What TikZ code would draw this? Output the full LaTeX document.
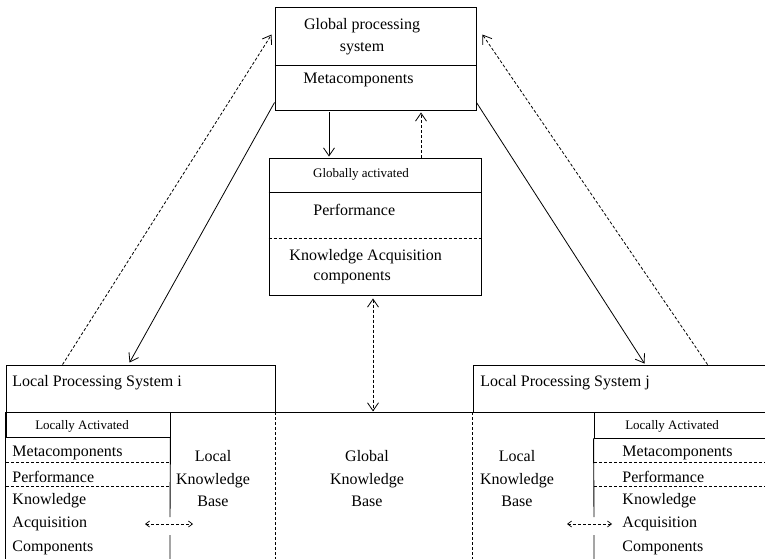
\documentclass[tikz,border=0pt]{standalone}
\usepackage{fontspec}
\setmainfont{Liberation Serif}
\usetikzlibrary{arrows.meta}

\begin{document}
\begin{tikzpicture}[x=1pt,y=-1pt,
    line width=.9pt,
    txt/.style={font=\fontsize{16}{22.5}\selectfont,inner sep=0pt},
    lbl/.style={txt,anchor=west},
    small/.style={font=\fontsize{13}{15}\selectfont,inner sep=0pt},
    frame/.style={draw,rectangle,inner sep=0pt},
    sep/.style={dash pattern=on 3pt off 2pt},
    arr/.style={-{Straight Barb[length=8pt,width=11pt]},line width=.8pt},
    darr/.style={arr,sep},
    tiny/.style={{Straight Barb[length=4pt,width=6pt]}-{Straight Barb[length=4pt,width=6pt]},line width=.7pt,sep}
  ]
  \clip (0,0) rectangle (765,559);

  % global processing system
  \node[frame,minimum width=201pt,minimum height=103pt] (gps) at (375.5,58.5) {};
  \draw (gps.west |- 0,65) -- (gps.east |- 0,65);
  \node[txt,align=center] (gpst) at (362,36.5) {Global processing\\system};
  \node[lbl] (gmeta) at (303,80) {Metacomponents};

  % globally activated components
  \node[frame,minimum width=212pt,minimum height=137pt] (ga) at (375,226.5) {};
  \draw (ga.west |- 0,192) -- (ga.east |- 0,192);
  \draw[sep] (ga.west |- 0,238) -- (ga.east |- 0,238);
  \node[small] (gact) at (361,174) {Globally activated};
  \node[lbl] (gperf) at (313,210) {Performance};
  \node[lbl] (gkacq) at (289,257) {Knowledge Acquisition};
  \node[lbl] (gkcomp) at (313,278) {components};

  % local processing systems
  \node[frame,minimum width=269pt,minimum height=47pt] (lpsi) at (140.5,388.5) {};
  \node[lbl] (lpsit) at (12,383) {Local Processing System i};
  \node[frame,minimum width=300pt,minimum height=47pt] (lpsj) at (623,388.5) {};
  \node[lbl] (lpsjt) at (480,383) {Local Processing System j};
  \draw (lpsi.south east) -- (lpsj.south west);

  % knowledge bases
  \draw (lpsi.south west) -- ++(0,153);
  \draw[sep] (lpsi.south east) -- ++(0,153);
  \draw[sep] (lpsj.south west) -- ++(0,153);
  \node[txt,align=center] (lkbi) at (213,479) {Local\\Knowledge\\Base};
  \node[txt,align=center] (gkb) at (367,479) {Global\\Knowledge\\Base};
  \node[txt,align=center] (lkbj) at (517,479) {Local\\Knowledge\\Base};

  % locally activated, system i
  \node[frame,minimum width=164pt,minimum height=25pt] (lai) at (88,424.5) {};
  \node[small] (lait) at (82,426) {Locally Activated};
  \draw (lai.south east) -- (170,517) (170,535) -- (170,565);
  \draw[sep] (6,462) -- (170,462) (6,486) -- (170,486);
  \foreach \t/\y in {Metacomponents/453,Performance/477,Knowledge/501,Acquisition/524,Components/548}
    \node[lbl] (ci-\y) at (12,\y) {\t};

  % locally activated, system j
  \node[frame,minimum width=181pt,minimum height=26pt] (laj) at (684.5,425) {};
  \node[small] (lajt) at (672,426) {Locally Activated};
  \draw (laj.south west) -- (594,517) (594,535) -- (594,565);
  \draw[sep] (594,462) -- (770,462) (594,486) -- (770,486);
  \foreach \t/\y in {Metacomponents/453,Performance/477,Knowledge/501,Acquisition/524,Components/548}
    \node[lbl] (cj-\y) at (622,\y) {\t};

  % connectors
  \draw[arr] ([yshift=8pt]gps.south west) -- ([xshift=124pt,yshift=2pt]lpsi.north west);
  \draw[darr] ([xshift=57pt]lpsi.north west) -- ([xshift=-3pt,yshift=-28pt]gps.north west);
  \draw[arr] ([yshift=8pt]gps.south east) -- ([xshift=172pt,yshift=1pt]lpsj.north west);
  \draw[darr] ([xshift=235pt]lpsj.north west) -- ([xshift=6pt,yshift=-28pt]gps.north east);
  \draw[arr] ([xshift=-46.5pt,yshift=-2pt]gps.south) -- ([xshift=-46pt,yshift=1pt]ga.north);
  \draw[darr] ([xshift=46pt]ga.north) -- ([xshift=45.5pt,yshift=-2pt]gps.south);
  \draw[darr,<->,>={Straight Barb[length=8pt,width=11pt]}] ([xshift=-2pt,yshift=-3pt]ga.south)
    -- ([xshift=-2pt,yshift=1pt]ga.south |- lpsi.south);
  \coordinate (kai) at (145,524);
  \coordinate (lki) at (193,524);
  \draw[tiny] (kai) -- (lki);
  \coordinate (lkj) at (567,524);
  \coordinate (kaj) at (612,524);
  \draw[tiny] (lkj) -- (kaj);
\end{tikzpicture}
\end{document}
